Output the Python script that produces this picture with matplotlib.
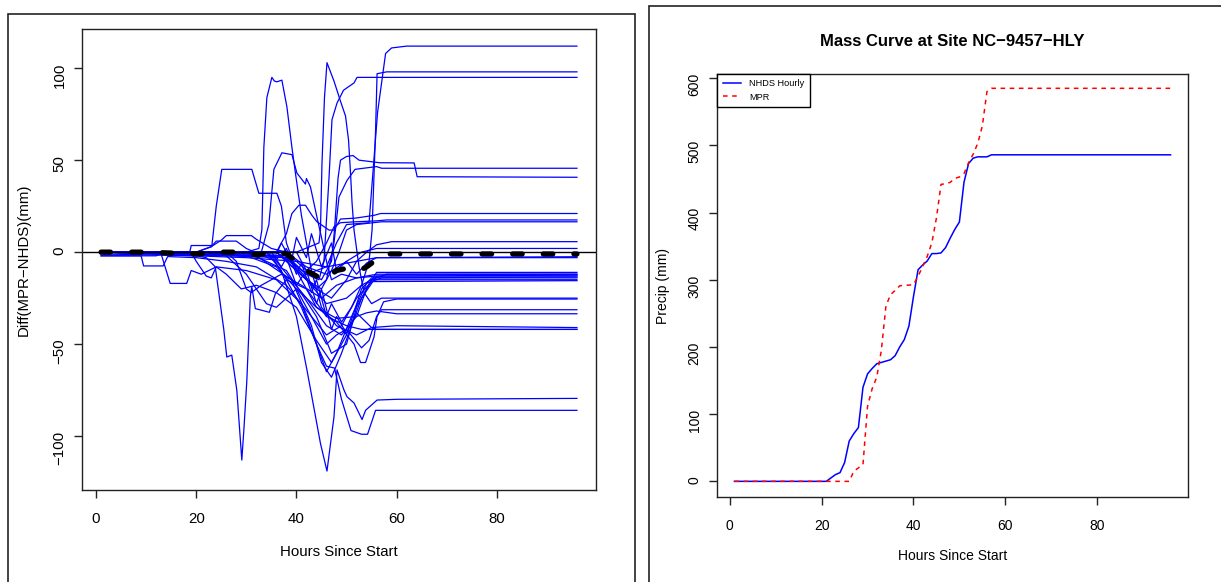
import matplotlib
matplotlib.use("Agg")
import matplotlib.pyplot as plt
from matplotlib.patches import Rectangle

plt.rcParams['font.family'] = ['Liberation Sans', 'DejaVu Sans']

# ============================================================
# Left panel: MPR - NHDS difference per site (hour, mm)
# ============================================================
d01_h = [1, 20, 30, 38, 42, 46, 48, 50, 54.5, 56.2, 57.8, 59, 62, 96]
d01_v = [0, 0, -1, -3, -12, -8, 5, 15, 16, 76, 108, 111, 112, 112]
d02_h = [1, 36, 42, 46, 50, 53, 54.5, 55.1, 55.8, 56.1, 58, 96]
d02_v = [0, 0, -15, -28, -25, -18, -5, 12, 66, 97, 98, 98]
d03_h = [1, 38, 42, 44.5, 45.5, 46.5, 47.1, 48.1, 49.4, 51.5, 52.1, 96]
d03_v = [0, -2, -12, -15, -5, 40, 72, 81, 88, 92, 95, 95]
d04_h = [1, 40, 44.5, 44.8, 45.1, 45.6, 46.1, 47.5, 48.8, 49.8, 50.4, 50.8, 51.1, 51.5, 52.5, 53.5, 55, 57, 96]
d04_v = [0, 0, 5, 12, 48, 84, 103, 93, 82, 74, 61, 43, 27, 12, -8, -22, -28, -25, -25]
d05_h = [1, 30, 32.5, 33.1, 33.5, 34.1, 35.1, 35.6, 36.1, 37.1, 38.1, 39.1, 39.8, 41, 42, 43, 45, 48, 52, 55, 60, 96]
d05_v = [0, 0, 2, 12, 57, 84, 95, 93, 92.6, 93.5, 79, 57, 43, 20, 5, -10, -30, -40, -45, -41, -40, -41]
d06_h = [1, 20, 23.1, 24, 25.1, 31.1, 32.5, 36.1, 37, 38, 40, 44, 48, 52, 54, 56, 60, 96]
d06_v = [0, 0, 3, 25, 45, 45, 32, 32, 25, 5, -10, -30, -36, -35, -33, -32, -33.5, -33.5]
d07_h = [1, 33, 34.5, 35.5, 37.1, 39.1, 40.1, 41.8, 42, 42.8, 44.1, 45, 46, 47, 49, 52, 56, 96]
d07_v = [0, 0, 15, 45, 54, 53, 43, 37, 40, 35.5, 19, 8, -5, -15, -12, -14, -13, -13]
d08_h = [1, 36, 38, 39.1, 40.5, 41.8, 43.1, 44.1, 46.5, 47.5, 48.8, 51.8, 55.5, 56.8, 96]
d08_v = [0, 0, 10, 21, 25.5, 25.5, 20, 16.5, 12, 12, 18, 18.5, 20, 21, 21]
d09_h = [1, 38, 42, 45, 47, 47.6, 48.3, 48.8, 50, 51.3, 52.5, 56.6, 63.5, 64.1, 96]
d09_v = [0, 0, -10, -15, -5, 12, 40, 50, 52, 52.5, 50, 48.6, 48.5, 41, 40.7]
d10_h = [1, 36, 40, 44, 46, 47.5, 48.5, 50.1, 51.7, 53.1, 56, 57, 96]
d10_v = [0, 0, -8, -20, -15, 5, 30, 39, 45, 45.5, 46.5, 45.6, 45.6]
d11_h = [1, 40, 42, 44, 46, 47.5, 48.8, 51.8, 56, 58, 96]
d11_v = [0, 0, -10, -5, 5, 13.8, 16, 16.5, 17, 17.5, 17.5]
d12_h = [1, 38, 42, 45, 47, 48.5, 50, 52, 57, 96]
d12_v = [0, -3, -15, -20, -10, 0, 12, 15, 16.5, 16.5]
d13_h = [1, 36, 40, 44, 47, 50, 52, 54, 56, 59, 96]
d13_v = [0, 0, -10, -20, -25, -15, -5, 0, 4, 5.7, 5.7]
d14_h = [1, 20, 23, 25, 26, 31, 32, 35, 38, 42, 46, 50, 53, 56, 96]
d14_v = [0, 0, 3, 6.5, 9, 9, 7, 2, 0, -8, -12, -5, 0, 2, 2]
d15_h = [1, 20, 30, 40, 46, 50, 56, 96]
d15_v = [-1, -2, -3, -5, -8, -6, -3, -2.5]
d16_h = [1, 18.7, 19, 23.2, 24, 28, 30, 36, 42, 46, 49, 52, 54, 56, 96]
d16_v = [0, 0, 3.6, 3.6, 6, 6, 2, -5, -25, -40, -45, -35, -20, -11, -11]
d17_h = [1, 30, 38, 44, 47, 50, 52, 55, 58, 96]
d17_v = [0, 0, -10, -35, -55, -50, -30, -15, -12, -12]
d18_h = [1, 32, 39, 43, 45, 47, 49, 51, 53, 56, 96]
d18_v = [0, -2, -15, -40, -60, -68, -55, -40, -25, -13, -12.5]
d19_h = [1, 19, 20, 22, 23, 24, 26, 29, 32, 36, 40, 44, 47, 50, 53, 55, 96]
d19_v = [0, 0, -5, -13, -14, -8, -12, -20, -18, -22, -30, -48, -60, -45, -20, -14, -13.5]
d20_h = [1, 12, 13, 14.8, 18.1, 19, 21, 24, 30, 36, 41, 44, 46, 48, 51, 54, 57, 96]
d20_v = [-2, -2, -1, -17, -17, -10, -12, -8, -10, -15, -28, -50, -65, -55, -35, -17, -14, -14]
d21_h = [1, 9, 9.5, 13.4, 14.3, 20, 26, 32, 38, 43, 46, 49, 52, 55, 96]
d21_v = [-2, -2, -7.5, -7.5, -2.4, -3, -5, -8, -18, -35, -45, -40, -25, -16, -15.5]
d22_h = [1, 22, 26, 30, 34, 36, 40, 44, 48, 51.5, 52.8, 53.8, 55.5, 56.1, 57.4, 60, 96]
d22_v = [0, 0, -2, -12, -28, -30, -20, -30, -38, -50, -60, -60, -46, -35, -27, -25.5, -25.5]
d23_h = [1, 20, 22, 23.8, 25.5, 26.1, 27.1, 28.1, 29.1, 29.5, 30.1, 30.8, 31.1, 31.8, 34.6, 35.8, 38, 42, 46, 50, 53, 56, 96]
d23_v = [0, -2, -3, -8, -42, -57, -56, -75, -113, -97, -70, -24, -19, -30.7, -32.7, -22.6, -15, -20, -35, -40, -42, -42, -42]
d24_h = [1, 34, 37, 40, 42.1, 44.8, 46.1, 47.5, 48.1, 49.5, 50.1, 51.5, 53.1, 53.8, 56.1, 60, 96]
d24_v = [0, 0, -10, -35, -64, -104, -119, -89.5, -64, -75, -78.6, -82, -91, -86, -80.4, -80, -79.5]
d25_h = [1, 35, 38, 41, 44, 46, 47.6, 49, 50.9, 53, 54.2, 55.8, 96]
d25_v = [0, -2, -15, -30, -50, -62, -63, -80, -97, -99, -99, -86, -86]
d26_h = [1, 30, 36, 40, 43, 46, 48, 50, 53, 54.5, 56, 57, 96]
d26_v = [0, -2, -8, -20, -35, -50, -45, -42, -52, -48, -35, -31.3, -31.3]
d27_h = [1, 26, 28, 30, 31, 33, 37, 41, 45, 48, 52, 56, 96]
d27_v = [0, 0, -5, -20, -22, -18, -12, -18, -25, -18, -14, -12, -12]
d28_h = [1, 34, 36, 38, 40, 41, 43, 44, 46, 47, 49, 51, 53, 55, 96]
d28_v = [0, 0, -4, 2, -12, -6, -22, -15, -35, -28, -38, -30, -18, -15, -15]
d29_h = [1, 36, 37, 39, 40, 42, 43, 45, 47, 48, 50, 52, 54, 56, 96]
d29_v = [0, -1, 5, -5, 8, -3, 10, -8, 5, -10, -5, -12, -6, -3, -3]
d30_h = [1, 35, 37, 38, 40, 42, 44, 45, 47, 48, 50, 52, 55, 56, 96]
d30_v = [0, 0, -8, -3, -18, -10, -28, -20, -42, -35, -44, -33, -41, -42, -42]

# mean difference (thick dashed)
mean_h = [1, 10, 15, 20, 25, 28, 32, 36, 38, 40, 42, 44, 45.5, 47, 48, 50.5, 53, 54, 56, 58, 60, 96]
mean_v = [0, 0, -0.5, -1, 0, 0, -1.5, 0, -1, -5, -10, -13, -15, -12, -10, -8.5, -9.5, -8, -4, -1, -1, -1]

diff_lines = [
    (d01_h, d01_v), (d02_h, d02_v), (d03_h, d03_v), (d04_h, d04_v),
    (d05_h, d05_v), (d06_h, d06_v), (d07_h, d07_v), (d08_h, d08_v),
    (d09_h, d09_v), (d10_h, d10_v), (d11_h, d11_v), (d12_h, d12_v),
    (d13_h, d13_v), (d14_h, d14_v), (d15_h, d15_v), (d16_h, d16_v),
    (d17_h, d17_v), (d18_h, d18_v), (d19_h, d19_v), (d20_h, d20_v),
    (d21_h, d21_v), (d22_h, d22_v), (d23_h, d23_v), (d24_h, d24_v),
    (d25_h, d25_v), (d26_h, d26_v), (d27_h, d27_v), (d28_h, d28_v),
    (d29_h, d29_v), (d30_h, d30_v),
]

# ============================================================
# Right panel: mass curve, hourly cumulative precip (mm)
# ============================================================
hours = list(range(1, 97))
nhds_hourly = ([0] * 21 +
               [5, 10, 13, 28, 60, 71, 80, 140, 160, 168, 175, 177, 179, 181,
                187, 200, 211, 231, 275, 315, 322, 328, 339, 339, 340, 348,
                362, 375, 386, 445, 473, 481, 483, 483, 483, 486] +
               [486] * 39)
mpr = ([0] * 26 +
       [15, 20, 25, 112, 138, 155, 195, 261, 278, 284, 291, 292, 292, 293,
        305, 320, 335, 355, 392, 442, 443, 445, 451, 453, 458, 474, 487,
        503, 529, 580, 585] +
       [585] * 39)

W, H = 1221, 582
fig = plt.figure(figsize=(W / 100, H / 100), dpi=100)

# panel borders (two separate images pasted side by side)
fig.patches.append(Rectangle((8 / W, -0.1), (635 - 8) / W, 1 - 14 / H + 0.1,
                             fill=False, ec="#222222", lw=1.2,
                             transform=fig.transFigure, figure=fig))
fig.patches.append(Rectangle((649 / W, -0.1), 0.5, 1 - 6 / H + 0.1,
                             fill=False, ec="#222222", lw=1.2,
                             transform=fig.transFigure, figure=fig))


def r_style(ax, fs, pad_x):
    for s in ax.spines.values():
        s.set_linewidth(1.0)
        s.set_color("#222222")
    ax.tick_params(direction="out", length=6, width=1, labelsize=fs, pad=5,
                   color="#222222")
    ax.tick_params(axis="x", pad=pad_x)
    ax.tick_params(axis="y", labelrotation=90)


# ---------------- left ----------------
ax1 = fig.add_axes([82 / W, 1 - 490 / H, 514 / W, 461 / H])
for h, v in diff_lines:
    ax1.plot(h, v, color="#0000FF", lw=0.9)
ax1.axhline(0, color="black", lw=1.0)
ax1.plot(mean_h, mean_v, color="black", lw=3.8,
         linestyle=(0, (1.8, 4.0)), dash_capstyle="round")
ax1.set_xlim(-2.8, 99.8)
ax1.set_ylim(-129.3, 121.3)
ax1.set_xticks([0, 20, 40, 60, 80])
ax1.set_yticks([-100, -50, 0, 50, 100])
r_style(ax1, 10.8, 10)
ax1.set_xlabel("Hours Since Start", fontsize=10.8)
ax1.xaxis.set_label_coords(0.5, -(545 - 490) / 461)
ax1.set_ylabel("Diff(MPR\u2212NHDS)(mm)", fontsize=10.8)
ax1.yaxis.set_label_coords(-(82 - 31) / 514, 0.5)

# ---------------- right ----------------
ax2 = fig.add_axes([717 / W, 1 - 497 / H, 471 / W, 423 / H])
ax2.plot(hours, nhds_hourly, color="#0000FF", lw=1.1, label="NHDS Hourly")
ax2.plot(hours, mpr, color="#FF0000", lw=1.1, linestyle=(0, (3, 3)), label="MPR")
ax2.set_xlim(-2.8, 99.8)
ax2.set_ylim(-23.3, 606.3)
ax2.set_xticks([0, 20, 40, 60, 80])
ax2.set_yticks([0, 100, 200, 300, 400, 500, 600])
r_style(ax2, 10, 9.5)
ax2.set_xlabel("Hours Since Start", fontsize=10)
ax2.xaxis.set_label_coords(0.5, -(549 - 497) / 423)
ax2.set_ylabel("Precip (mm)", fontsize=10)
ax2.yaxis.set_label_coords(-(717 - 670) / 471, 0.5)
ax2.text(0.5, 1 + (74 - 42) / 423, "Mass Curve at Site NC\u22129457\u2212HLY",
         transform=ax2.transAxes, ha="center", va="center",
         fontsize=12, fontweight="bold")
leg = ax2.legend(loc="upper left", borderaxespad=0, fancybox=False,
                 fontsize=6.6, handlelength=2.0, handletextpad=0.9,
                 borderpad=0.6, labelspacing=0.45, framealpha=1)
leg.get_frame().set_edgecolor("black")
leg.get_frame().set_linewidth(1.0)

fig.savefig("out.png", dpi=100)
